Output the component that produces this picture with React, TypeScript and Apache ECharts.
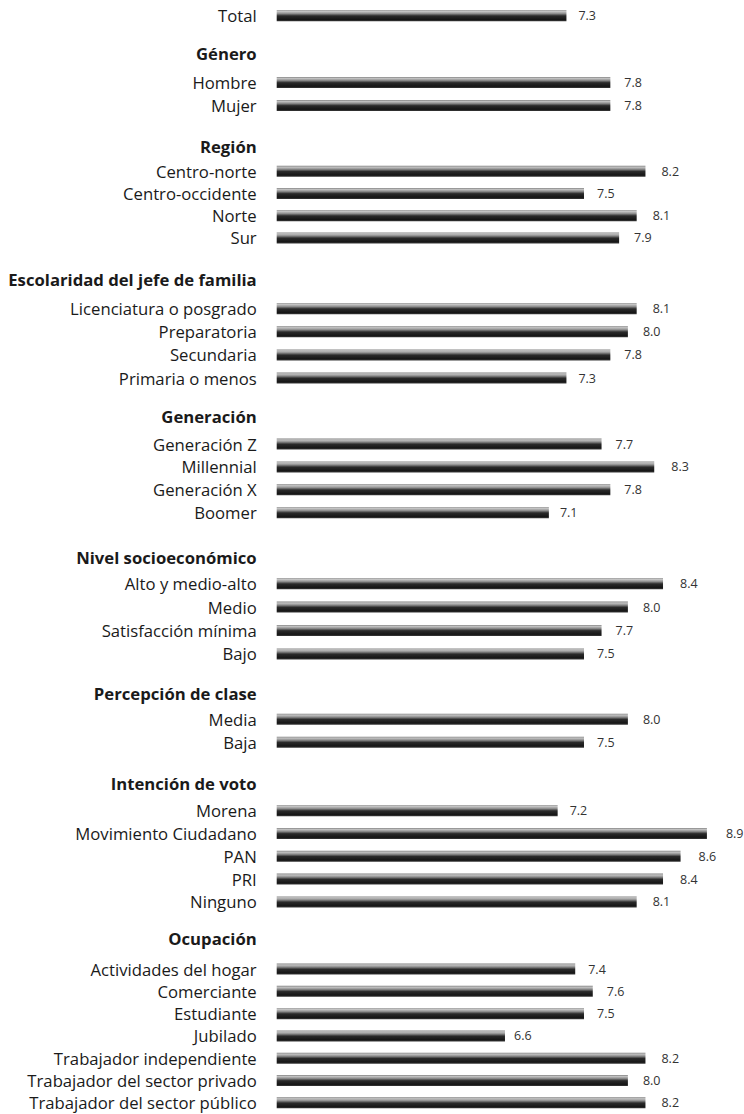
import React, { useEffect, useRef } from "react";
import * as echarts from "echarts";

// ---- data ----
const totalLabels = ["Total"];
const totalValues = [7.3];

const generoHeader = "Género";
const generoLabels = ["Hombre", "Mujer"];
const generoValues = [7.8, 7.8];

const regionHeader = "Región";
const regionLabels = ["Centro-norte", "Centro-occidente", "Norte", "Sur"];
const regionValues = [8.2, 7.5, 8.1, 7.9];

const escolaridadHeader = "Escolaridad del jefe de familia";
const escolaridadLabels = ["Licenciatura o posgrado", "Preparatoria", "Secundaria", "Primaria o menos"];
const escolaridadValues = [8.1, 8.0, 7.8, 7.3];

const generacionHeader = "Generación";
const generacionLabels = ["Generación Z", "Millennial", "Generación X", "Boomer"];
const generacionValues = [7.7, 8.3, 7.8, 7.1];

const nseHeader = "Nivel socioeconómico";
const nseLabels = ["Alto y medio-alto", "Medio", "Satisfacción mínima", "Bajo"];
const nseValues = [8.4, 8.0, 7.7, 7.5];

const claseHeader = "Percepción de clase";
const claseLabels = ["Media", "Baja"];
const claseValues = [8.0, 7.5];

const votoHeader = "Intención de voto";
const votoLabels = ["Morena", "Movimiento Ciudadano", "PAN", "PRI", "Ninguno"];
const votoValues = [7.2, 8.9, 8.6, 8.4, 8.1];

const ocupacionHeader = "Ocupación";
const ocupacionLabels = [
  "Actividades del hogar",
  "Comerciante",
  "Estudiante",
  "Jubilado",
  "Trabajador independiente",
  "Trabajador del sector privado",
  "Trabajador del sector público",
];
const ocupacionValues = [7.4, 7.6, 7.5, 6.6, 8.2, 8.0, 8.2];

const groups = [
  { header: null as string | null, labels: totalLabels, values: totalValues },
  { header: generoHeader, labels: generoLabels, values: generoValues },
  { header: regionHeader, labels: regionLabels, values: regionValues },
  { header: escolaridadHeader, labels: escolaridadLabels, values: escolaridadValues },
  { header: generacionHeader, labels: generacionLabels, values: generacionValues },
  { header: nseHeader, labels: nseLabels, values: nseValues },
  { header: claseHeader, labels: claseLabels, values: claseValues },
  { header: votoHeader, labels: votoLabels, values: votoValues },
  { header: ocupacionHeader, labels: ocupacionLabels, values: ocupacionValues },
];

// ---- layout (pixels) ----
const layout = [
  { first: 15.7, pitch: 22, headerY: 0 },
  { first: 82.5, pitch: 23, headerY: 53.3 },
  { first: 171.3, pitch: 22.2, headerY: 146.7 },
  { first: 308.7, pitch: 23.1, headerY: 279.3 },
  { first: 444, pitch: 22.9, headerY: 416.7 },
  { first: 583.7, pitch: 23.4, headerY: 557.3 },
  { first: 719.2, pitch: 23, headerY: 693.3 },
  { first: 810.7, pitch: 22.8, headerY: 783.3 },
  { first: 969.3, pitch: 22.8, headerY: 938.3 },
];

const GRID_LEFT = 276.7;
const GRID_WIDTH = 439;
const LABEL_RIGHT = 256.7;
const FONT = '"Open Sans", "Noto Sans", sans-serif';
const FONT_SIZE = 16.7;

export default function App() {
  const ref = useRef<HTMLDivElement>(null);

  useEffect(() => {
    if (!ref.current) return;
    const chart = echarts.init(ref.current, undefined, { renderer: "svg" });

    const barColor = new echarts.graphic.LinearGradient(0, 0, 0, 1, [
      { offset: 0, color: "#808080" },
      { offset: 0.12, color: "#c4c4c4" },
      { offset: 0.3, color: "#909090" },
      { offset: 0.52, color: "#2a2a2a" },
      { offset: 0.85, color: "#161616" },
      { offset: 1, color: "#3a3a3a" },
    ]);

    const grids: any[] = [];
    const xAxes: any[] = [];
    const yAxes: any[] = [];
    const series: any[] = [];
    const graphics: any[] = [];

    groups.forEach((g, i) => {
      const L = layout[i];
      const n = g.labels.length;
      grids.push({
        left: GRID_LEFT,
        width: GRID_WIDTH,
        top: L.first - L.pitch / 2,
        height: n * L.pitch,
        containLabel: false,
      });
      xAxes.push({
        type: "value",
        gridIndex: i,
        min: 4,
        max: 9,
        startValue: 4,
        show: false,
        splitLine: { show: false },
      });
      yAxes.push({
        type: "category",
        gridIndex: i,
        data: g.labels,
        inverse: true,
        axisLine: { show: false },
        axisTick: { show: false },
        splitLine: { show: false },
        axisLabel: {
          interval: 0,
          hideOverlap: false,
          margin: GRID_LEFT - LABEL_RIGHT,
          fontSize: FONT_SIZE,
          lineHeight: 18,
          fontFamily: FONT,
          color: "#1a1a1a",
        },
      });
      series.push({
        type: "bar",
        xAxisIndex: i,
        yAxisIndex: i,
        data: g.values.map((v) => ({
          value: v,
          label: { distance: Math.round(9 + (v - 6.6) * 4.5) },
        })),
        barWidth: 11,
        clip: true,
        itemStyle: { color: barColor },
        label: {
          show: true,
          position: "right",
          fontSize: 12.5,
          fontFamily: FONT,
          color: "#333333",
          formatter: (p: any) => Number(p.value).toFixed(1),
        },
      });
      if (g.header) {
        graphics.push({
          type: "text",
          x: LABEL_RIGHT,
          y: L.headerY,
          style: {
            text: g.header,
            align: "right",
            verticalAlign: "middle",
            fontSize: FONT_SIZE,
            lineHeight: 18,
            fontWeight: "bold",
            fontFamily: FONT,
            fill: "#1a1a1a",
          },
        });
      }
    });

    chart.setOption({
      animation: false,
      backgroundColor: "#ffffff",
      grid: grids,
      xAxis: xAxes,
      yAxis: yAxes,
      series,
      graphic: graphics,
    });

    return () => chart.dispose();
  }, []);

  return (
    <div
      ref={ref}
      style={{ position: "absolute", left: 0, top: 0, width: 744, height: 1114 }}
    />
  );
}
